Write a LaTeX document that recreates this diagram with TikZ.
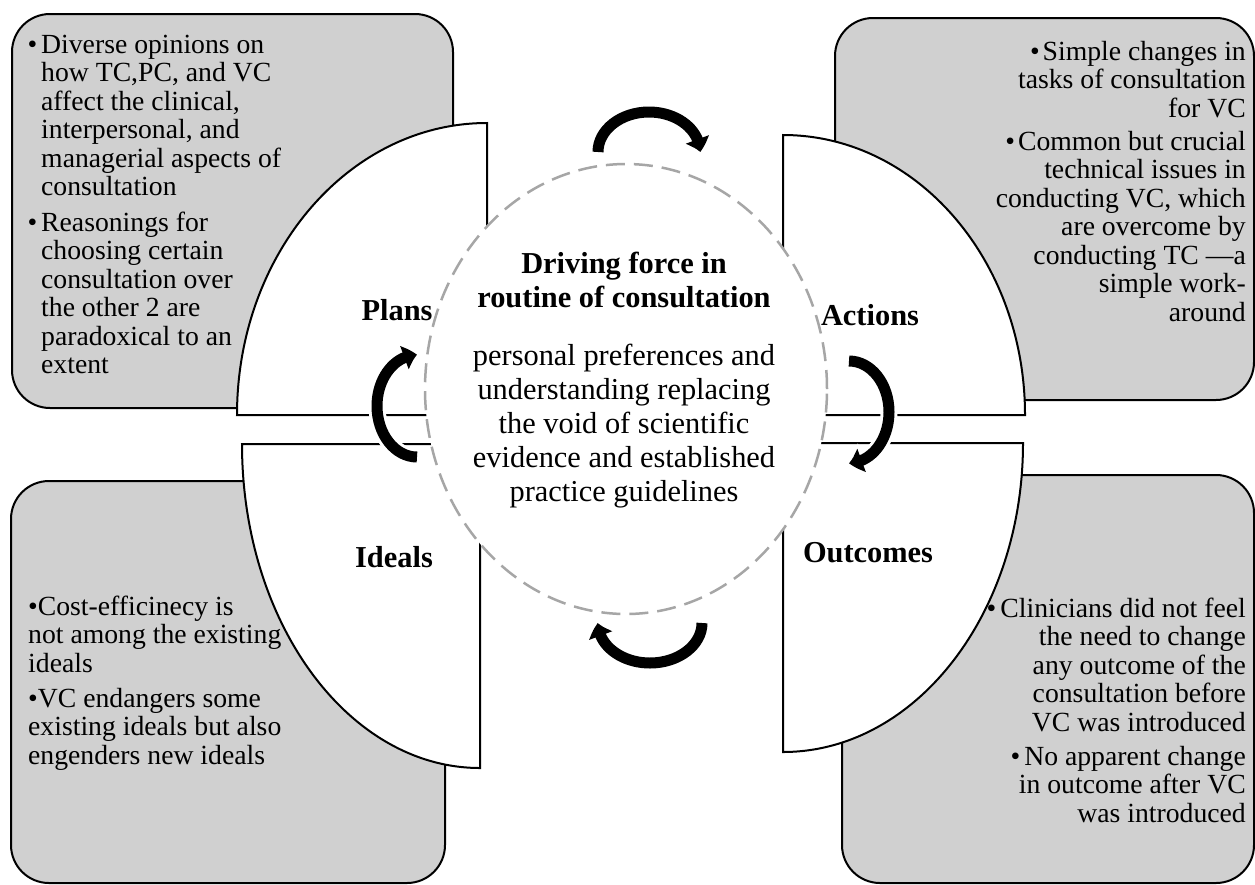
\documentclass[tikz,border=0pt]{standalone}
\usepackage{fontspec}
\setmainfont{Liberation Serif}
\usetikzlibrary{arrows.meta,bending,shapes.geometric}
\definecolor{boxgray}{RGB}{208,208,208}
\definecolor{dashgray}{RGB}{166,166,166}
\begin{document}
\begin{tikzpicture}[x=1pt,y=-1pt,
  grbox/.style={draw=black,line width=2pt,fill=boxgray,rounded corners=38pt},
  quarter/.style={draw=black,line width=2pt,fill=white},
  cyc/.style={black,line width=11pt,-{Triangle[width=24pt,length=13pt,bend]}},
  cycw/.style={white,line width=17pt,-{Triangle[width=32pt,length=17pt,bend]}},
  btxt/.style={font=\fontsize{27.7}{28.5}\selectfont,inner sep=0pt},
  ltxt/.style={btxt,anchor=base west},
  rtxt/.style={btxt,anchor=base east},
  ctxt/.style={font=\fontsize{30.4}{34}\selectfont,inner sep=0pt,anchor=base},
  ttxt/.style={font=\bfseries\fontsize{30.4}{34}\selectfont,inner sep=0pt,anchor=base},
  lbl/.style={font=\bfseries\fontsize{30.4}{34}\selectfont,inner sep=0pt,anchor=base}]
\useasboundingbox (0,0) rectangle (1255,884);
\fill[white] (0,0) rectangle (1255,884);
% grey boxes
\draw[grbox] (12,14) rectangle (453,408);
\draw[grbox] (835,18) rectangle (1254,400);
\draw[grbox] (11,481) rectangle (445,883);
\draw[grbox] (842,475) rectangle (1254,883);
% quarter shapes
\draw[quarter] (487,415) -- (237,415) arc[start angle=180,end angle=270,x radius=250,y radius=292] -- cycle;
\draw[quarter] (783,415) -- (783,135) arc[start angle=270,end angle=360,x radius=242,y radius=280] -- cycle;
\draw[quarter] (480,444) -- (242,444) arc[start angle=180,end angle=90,x radius=238,y radius=324] -- cycle;
\draw[quarter] (783,443) -- (1023,443) arc[start angle=0,end angle=90,x radius=240,y radius=309] -- cycle;
% central dashed circle
\node[ellipse,draw=dashgray,fill=white,line width=2.5pt,dash pattern=on 19pt off 9pt,
  minimum width=402pt,minimum height=450pt,inner sep=0pt] (core) at (626,389) {};
% cycle arrows
\draw[cycw] (598,152) arc[start angle=180,end angle=360,x radius=51,y radius=40];
\draw[cyc]  (598,152) arc[start angle=180,end angle=360,x radius=51,y radius=40];
\draw[cycw] (849,361) arc[start angle=270,end angle=450,x radius=40,y radius=51];
\draw[cyc]  (849,361) arc[start angle=270,end angle=450,x radius=40,y radius=51];
\draw[cycw] (702,623) arc[start angle=0,end angle=180,x radius=52,y radius=40];
\draw[cyc]  (702,623) arc[start angle=0,end angle=180,x radius=52,y radius=40];
\draw[cycw] (417,457) arc[start angle=90,end angle=270,x radius=40,y radius=51];
\draw[cyc]  (417,457) arc[start angle=90,end angle=270,x radius=40,y radius=51];
% labels
\node[lbl] (plans) at (397,320) {Plans};
\node[lbl] (actions) at (870,325) {Actions};
\node[lbl] (ideals) at (394,567) {Ideals};
\node[lbl] (outcomes) at (868,562) {Outcomes};
% centre text
\node[ttxt] (t1) at (624,273) {Driving force in};
\node[ttxt] (t2) at (624,307) {routine of consultation};
\foreach \yy/\txt [count=\i] in {365/{personal preferences and},399/{understanding replacing},
  433/{the void of scientific},467/{evidence and established},501/{practice guidelines}}
  \node[ctxt] (c\i) at (624,\yy) {\txt};
% top-left text
\foreach \yy/\txt [count=\i] in {53/{\llap{•\kern4pt}Diverse opinions on},81.5/{how TC,PC, and VC},
  110/{affect the clinical,},138.5/{interpersonal, and},167/{managerial aspects of},195.5/{consultation},
  231/{\llap{•\kern4pt}Reasonings for},259.5/{choosing certain},288/{consultation over},
  316.5/{the other 2 are},345/{paradoxical to an},373.5/{extent}}
  \node[ltxt] (tl\i) at (41,\yy) {\txt};
% top-right text
\foreach \yy/\txt [count=\i] in {60/{•\kern3pt Simple changes in},88.5/{tasks of consultation},117/{for VC},
  150/{•\kern3pt Common but crucial},178.5/{technical issues in},207/{conducting VC, which},
  235.5/{are overcome by},264/{conducting TC —a},292.5/{simple work-},321/{around}}
  \node[rtxt] (tr\i) at (1246,\yy) {\txt};
% bottom-left text
\foreach \yy/\txt [count=\i] in {615/{•Cost-efficinecy is},643.5/{not among the existing},672/{ideals},
  707/{•VC endangers some},735.5/{existing ideals but also},764/{engenders new ideals}}
  \node[ltxt] (bl\i) at (28,\yy) {\txt};
% bottom-right text
\foreach \yy/\txt [count=\i] in {617/{•\kern4pt Clinicians did not feel},645.5/{the need to change},
  674/{any outcome of the},702.5/{consultation before},731/{VC was introduced},
  765/{•\kern4pt No apparent change},793.5/{in outcome after VC},822/{was introduced}}
  \node[rtxt] (br\i) at (1246,\yy) {\txt};
\end{tikzpicture}
\end{document}
